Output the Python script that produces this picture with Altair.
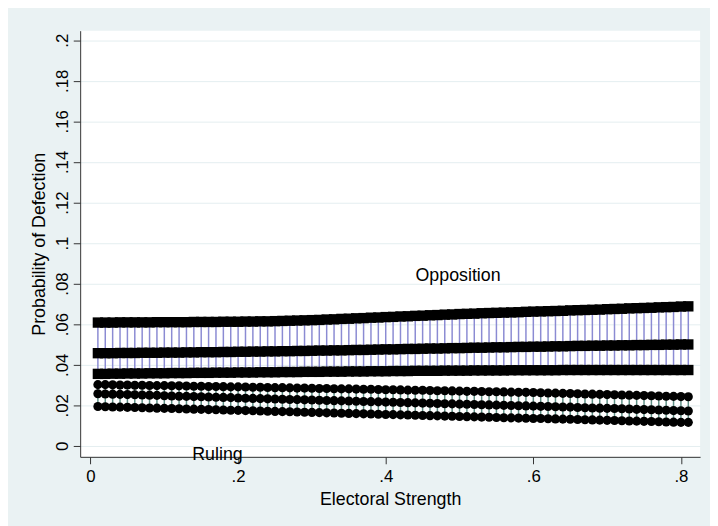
import altair as alt
import numpy as np
import pandas as pd

# Electoral strength grid (0.01 .. 0.81)
x_vals = [round(0.01 * i, 2) for i in range(1, 82)]

opp_upper = [
    0.0608, 0.0608, 0.0608, 0.0609, 0.0609, 0.0609, 0.0609, 0.0609, 0.0610, 0.0610,
    0.0610, 0.0610, 0.0610, 0.0611, 0.0611, 0.0611, 0.0611, 0.0612, 0.0612, 0.0612,
    0.0613, 0.0613, 0.0614, 0.0614, 0.0615, 0.0616, 0.0617, 0.0618, 0.0619, 0.0620,
    0.0621, 0.0623, 0.0624, 0.0626, 0.0627, 0.0629, 0.0630, 0.0632, 0.0633, 0.0635,
    0.0636, 0.0638, 0.0639, 0.0641, 0.0642, 0.0644, 0.0645, 0.0647, 0.0648, 0.0650,
    0.0651, 0.0652, 0.0654, 0.0655, 0.0656, 0.0657, 0.0658, 0.0659, 0.0661, 0.0662,
    0.0663, 0.0664, 0.0665, 0.0666, 0.0668, 0.0669, 0.0670, 0.0671, 0.0672, 0.0674,
    0.0675, 0.0676, 0.0678, 0.0679, 0.0680, 0.0681, 0.0683, 0.0684, 0.0685, 0.0687, 0.0688,
]
opp_mean = [
    0.0457, 0.0457, 0.0457, 0.0458, 0.0458, 0.0458, 0.0459, 0.0459, 0.0459, 0.0460,
    0.0460, 0.0460, 0.0461, 0.0461, 0.0462, 0.0462, 0.0462, 0.0463, 0.0463, 0.0464,
    0.0464, 0.0465, 0.0465, 0.0466, 0.0466, 0.0467, 0.0467, 0.0468, 0.0468, 0.0469,
    0.0470, 0.0470, 0.0471, 0.0471, 0.0472, 0.0473, 0.0473, 0.0474, 0.0475, 0.0476,
    0.0476, 0.0477, 0.0478, 0.0478, 0.0479, 0.0480, 0.0480, 0.0481, 0.0482, 0.0482,
    0.0483, 0.0484, 0.0484, 0.0485, 0.0486, 0.0486, 0.0487, 0.0488, 0.0488, 0.0489,
    0.0489, 0.0490, 0.0491, 0.0491, 0.0492, 0.0493, 0.0493, 0.0494, 0.0494, 0.0495,
    0.0495, 0.0496, 0.0496, 0.0497, 0.0497, 0.0498, 0.0498, 0.0499, 0.0499, 0.0500, 0.0500,
]
opp_lower = [
    0.0355, 0.0355, 0.0356, 0.0356, 0.0357, 0.0357, 0.0357, 0.0358, 0.0358, 0.0358,
    0.0359, 0.0359, 0.0359, 0.0360, 0.0360, 0.0360, 0.0361, 0.0361, 0.0361, 0.0362,
    0.0362, 0.0362, 0.0363, 0.0363, 0.0363, 0.0364, 0.0364, 0.0364, 0.0365, 0.0365,
    0.0365, 0.0366, 0.0366, 0.0366, 0.0367, 0.0367, 0.0367, 0.0368, 0.0368, 0.0368,
    0.0369, 0.0369, 0.0369, 0.0370, 0.0370, 0.0370, 0.0370, 0.0371, 0.0371, 0.0371,
    0.0371, 0.0372, 0.0372, 0.0372, 0.0372, 0.0372, 0.0373, 0.0373, 0.0373, 0.0373,
    0.0373, 0.0373, 0.0373, 0.0374, 0.0374, 0.0374, 0.0374, 0.0374, 0.0374, 0.0374,
    0.0374, 0.0374, 0.0374, 0.0374, 0.0374, 0.0374, 0.0374, 0.0374, 0.0374, 0.0374, 0.0374,
]
rul_upper = [
    0.0302, 0.0302, 0.0301, 0.0300, 0.0300, 0.0299, 0.0299, 0.0298, 0.0297, 0.0297,
    0.0296, 0.0296, 0.0295, 0.0294, 0.0294, 0.0293, 0.0293, 0.0292, 0.0291, 0.0291,
    0.0290, 0.0289, 0.0289, 0.0288, 0.0287, 0.0287, 0.0286, 0.0285, 0.0285, 0.0284,
    0.0283, 0.0283, 0.0282, 0.0281, 0.0281, 0.0280, 0.0279, 0.0279, 0.0278, 0.0277,
    0.0277, 0.0276, 0.0275, 0.0274, 0.0274, 0.0273, 0.0272, 0.0272, 0.0271, 0.0270,
    0.0269, 0.0269, 0.0268, 0.0267, 0.0267, 0.0266, 0.0265, 0.0264, 0.0264, 0.0263,
    0.0262, 0.0261, 0.0260, 0.0259, 0.0258, 0.0257, 0.0256, 0.0255, 0.0254, 0.0253,
    0.0252, 0.0251, 0.0250, 0.0249, 0.0248, 0.0247, 0.0246, 0.0245, 0.0244, 0.0243, 0.0242,
]
rul_mean = [
    0.0257, 0.0256, 0.0255, 0.0254, 0.0253, 0.0252, 0.0251, 0.0250, 0.0249, 0.0247,
    0.0246, 0.0245, 0.0244, 0.0243, 0.0242, 0.0241, 0.0240, 0.0239, 0.0238, 0.0236,
    0.0235, 0.0234, 0.0233, 0.0232, 0.0231, 0.0230, 0.0229, 0.0228, 0.0227, 0.0226,
    0.0225, 0.0224, 0.0223, 0.0222, 0.0221, 0.0220, 0.0219, 0.0218, 0.0217, 0.0216,
    0.0215, 0.0214, 0.0213, 0.0212, 0.0211, 0.0210, 0.0209, 0.0208, 0.0207, 0.0206,
    0.0205, 0.0204, 0.0203, 0.0202, 0.0201, 0.0200, 0.0199, 0.0198, 0.0197, 0.0196,
    0.0195, 0.0194, 0.0193, 0.0192, 0.0191, 0.0189, 0.0188, 0.0187, 0.0186, 0.0185,
    0.0184, 0.0183, 0.0182, 0.0180, 0.0179, 0.0178, 0.0177, 0.0176, 0.0174, 0.0173, 0.0172,
]
rul_lower = [
    0.0194, 0.0193, 0.0192, 0.0191, 0.0190, 0.0189, 0.0188, 0.0187, 0.0186, 0.0185,
    0.0184, 0.0183, 0.0182, 0.0181, 0.0180, 0.0179, 0.0178, 0.0177, 0.0176, 0.0175,
    0.0174, 0.0173, 0.0172, 0.0171, 0.0170, 0.0169, 0.0168, 0.0167, 0.0166, 0.0165,
    0.0164, 0.0163, 0.0162, 0.0161, 0.0160, 0.0159, 0.0158, 0.0157, 0.0156, 0.0155,
    0.0154, 0.0153, 0.0152, 0.0151, 0.0150, 0.0149, 0.0148, 0.0147, 0.0146, 0.0145,
    0.0144, 0.0143, 0.0142, 0.0141, 0.0140, 0.0139, 0.0138, 0.0137, 0.0136, 0.0135,
    0.0135, 0.0134, 0.0133, 0.0132, 0.0131, 0.0130, 0.0129, 0.0128, 0.0127, 0.0126,
    0.0125, 0.0124, 0.0123, 0.0122, 0.0121, 0.0120, 0.0119, 0.0118, 0.0117, 0.0116, 0.0116,
]

x_ticks = [0, 0.2, 0.4, 0.6, 0.8]
y_ticks = [0, 0.02, 0.04, 0.06, 0.08, 0.1, 0.12, 0.14, 0.16, 0.18, 0.2]

label_texts = ["Opposition", "Ruling"]
label_x = [0.498, 0.172]
label_y = [0.0838, -0.0045]

df = pd.DataFrame({
    "x": x_vals,
    "ou": opp_upper, "om": opp_mean, "ol": opp_lower,
    "ru": rul_upper, "rm": rul_mean, "rl": rul_lower,
})
labels_df = pd.DataFrame({"t": label_texts, "lx": label_x, "ly": label_y})

FONT = "Liberation Sans"
xscale = alt.Scale(domain=[-0.014, 0.826], nice=False, zero=False)
yscale = alt.Scale(domain=[-0.0054, 0.2047], nice=False, zero=False)

xaxis = alt.Axis(
    title="Electoral Strength", values=x_ticks, grid=False,
    labelExpr="datum.value == 0 ? '0' : substring(format(datum.value, '.2~f'), 1)",
    tickSize=7, labelPadding=5, titlePadding=6,
)
yaxis = alt.Axis(
    title="Probability of Defection", values=y_ticks, grid=True,
    labelExpr="datum.value == 0 ? '0' : substring(format(datum.value, '.2~f'), 1)",
    labelAngle=-90, labelAlign="center", labelBaseline="alphabetic",
    tickSize=7, labelPadding=6, titlePadding=5,
)

X = alt.X("x:Q", scale=xscale, axis=xaxis)

base = alt.Chart(df)

opp_spikes = base.mark_rule(color="#8B8BD3", strokeWidth=1.5).encode(
    x=X, y=alt.Y("ol:Q", scale=yscale, axis=yaxis), y2="ou:Q"
)
rul_spikes = base.mark_rule(color="#5E8F85", strokeWidth=1.5).encode(
    x=X, y=alt.Y("rl:Q", scale=yscale, axis=yaxis), y2="ru:Q"
)
opp_pts = base.transform_fold(["ou", "om", "ol"], as_=["k", "v"]).mark_point(
    shape="square", filled=True, color="black", size=110, opacity=1
).encode(x=X, y=alt.Y("v:Q", scale=yscale, axis=yaxis))
rul_pts = base.transform_fold(["ru", "rm", "rl"], as_=["k", "v"]).mark_point(
    shape="circle", filled=True, color="black", size=85, opacity=1
).encode(x=X, y=alt.Y("v:Q", scale=yscale, axis=yaxis))

texts = alt.Chart(labels_df).mark_text(
    font=FONT, fontSize=18, color="black", align="center", baseline="middle"
).encode(
    x=alt.X("lx:Q", scale=xscale, axis=xaxis),
    y=alt.Y("ly:Q", scale=yscale, axis=yaxis),
    text="t:N",
)

chart = alt.layer(opp_spikes, rul_spikes, opp_pts, rul_pts, texts).properties(
    width=627, height=431, autosize="none",
    padding={"left": 73, "top": 20, "right": 10, "bottom": 67},
    background="#EAF2F3",
).configure_view(
    fill="white", stroke=None
).configure_axis(
    labelFont=FONT, titleFont=FONT, labelFontSize=17, titleFontSize=18,
    labelColor="black", titleColor="black", titleFontWeight="normal",
    domainColor="#333333", tickColor="#333333", domainWidth=1, tickWidth=1,
    gridColor="#E4EEF0", gridWidth=1,
)

chart.save("out.html", embed_options={"renderer": "svg", "actions": False})
